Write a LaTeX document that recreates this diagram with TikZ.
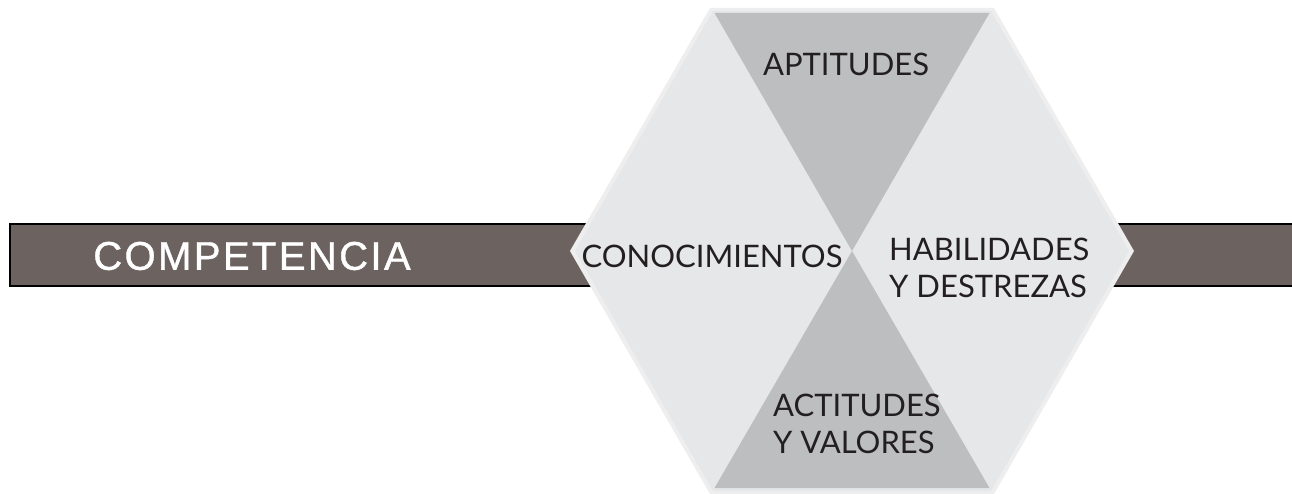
\documentclass[tikz,border=0pt]{standalone}
\usepackage{fontspec}
\setmainfont{Lato}
\newfontfamily\barfont[LetterSpace=6,FakeBold=1]{Liberation Sans}
\definecolor{hexlight}{HTML}{E6E7E8}
\definecolor{hexedge}{HTML}{EEEEEF}
\definecolor{hexdark}{HTML}{BCBEC0}
\definecolor{barfill}{HTML}{6C6360}
\definecolor{txt}{HTML}{231F20}
\tikzset{
  bar/.style={fill=barfill, draw=black, line width=2.2pt},
  lbl/.style={text=txt, font=\fontsize{31}{37}\selectfont, inner sep=0pt, align=left},
}
\begin{document}
\begin{tikzpicture}[x=1pt,y=-1pt]
\useasboundingbox (0,0) rectangle (1292,494);
% bar behind the hexagon
\draw[bar] (10,224) rectangle (1310,286);
% hexagon
\coordinate (c) at (852,251);
\fill[hexedge] (570,251) -- (710,8) -- (994,8) -- (1134,251) -- (994,494) -- (710,494) -- cycle;
\fill[hexlight] (575,251) -- (713,11) -- (991,11) -- (1129,251) -- (991,491) -- (713,491) -- cycle;
% dark triangles
\fill[hexdark] (c) -- (714.5,13) -- (989.5,13) -- cycle;
\fill[hexdark] (c) -- (714.5,488) -- (989.5,488) -- cycle;
% labels
\node[text=white, inner sep=0pt, font=\barfont\fontsize{40}{40}\selectfont] (comp) at (252,256) {COMPETENCIA};
\node[lbl] (apt) at (846,64) {APTITUDES};
\node[lbl] (con) at (712,256) {CONOCIMIENTOS};
\node[lbl, anchor=west] (hab) at (889,268) {HABILIDADES\\Y DESTREZAS};
\node[lbl, anchor=west] (act) at (773,424) {ACTITUDES\\Y VALORES};
\end{tikzpicture}
\end{document}
